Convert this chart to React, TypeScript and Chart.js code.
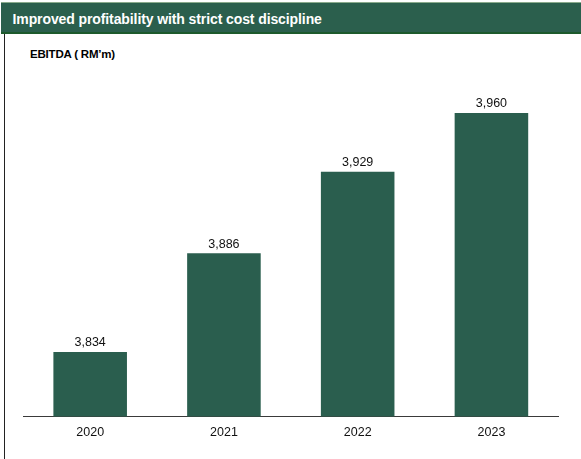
import React, { useEffect, useRef } from "react";
import { Chart, registerables } from "chart.js";

Chart.register(...registerables);

const title = "Improved profitability with strict cost discipline";
const subtitle = "EBITDA ( RM\u2019m)";
const years = ["2020", "2021", "2022", "2023"];
const ebitda = [3834, 3886, 3929, 3960];
const yMin = 3800;
const yMax = 3980;

const GREEN = "#2a5e4e";

const valueLabels = {
  id: "valueLabels",
  afterDatasetsDraw(chart: any) {
    const ctx = chart.ctx;
    const meta = chart.getDatasetMeta(0);
    ctx.save();
    ctx.font = "12.5px 'Liberation Sans', Arial, sans-serif";
    ctx.fillStyle = "#111";
    ctx.textAlign = "center";
    ctx.textBaseline = "alphabetic";
    meta.data.forEach((el: any, i: number) => {
      const v = chart.data.datasets[0].data[i] as number;
      ctx.fillText(v.toLocaleString("en-US"), el.x, el.y - 5.6);
    });
    ctx.restore();
  },
};

export default function App() {
  const ref = useRef<HTMLCanvasElement | null>(null);
  useEffect(() => {
    if (!ref.current) return;
    const chart = new Chart(ref.current, {
      type: "bar",
      data: {
        labels: years,
        datasets: [
          {
            data: ebitda,
            backgroundColor: GREEN,
            borderWidth: 0,
            categoryPercentage: 1,
            barPercentage: 0.55,
          },
        ],
      },
      options: {
        animation: false,
        responsive: false,
        maintainAspectRatio: false,
        layout: { padding: { top: 75, bottom: 9.5, left: 23.3, right: 22.7 } },
        plugins: { legend: { display: false }, tooltip: { enabled: false }, title: { display: false } },
        scales: {
          x: {
            grid: { display: false, drawTicks: false },
            border: { display: true, color: "#3a3a3a", width: 1 },
            ticks: {
              color: "#111",
              padding: 9,
              font: { family: "'Liberation Sans', Arial, sans-serif", size: 12.5 },
            },
          },
          y: { display: false, min: yMin, max: yMax },
        },
      },
      plugins: [valueLabels],
    });
    return () => chart.destroy();
  }, []);

  return (
    <div style={{ position: "absolute", left: 0, top: 0, width: 581, height: 459, background: "#fff", overflow: "hidden", fontFamily: "'Liberation Sans', Arial, sans-serif" }}>
      <div style={{ position: "absolute", left: 1, top: 2, width: 580, height: 29, background: "#2b5f4d", borderTop: "1px solid #8aab8c", borderBottom: "2px solid #1d5a2c" }} />
      <div style={{ position: "absolute", left: 12.5, top: 12.2, lineHeight: "14px", fontSize: 14, fontWeight: "bold", color: "#fff", whiteSpace: "nowrap", letterSpacing: "-0.1px" }}>{title}</div>
      <div style={{ position: "absolute", left: 4, top: 34, width: 1, height: 425, background: "#222" }} />
      <div style={{ position: "absolute", left: 30, top: 49, lineHeight: "11px", fontSize: 11.5, fontWeight: "bold", color: "#000", whiteSpace: "nowrap", letterSpacing: "-0.2px" }}>{subtitle}</div>
      <canvas ref={ref} width={581} height={459} style={{ position: "absolute", left: 0, top: 0, width: 581, height: 459 }} />
    </div>
  );
}
